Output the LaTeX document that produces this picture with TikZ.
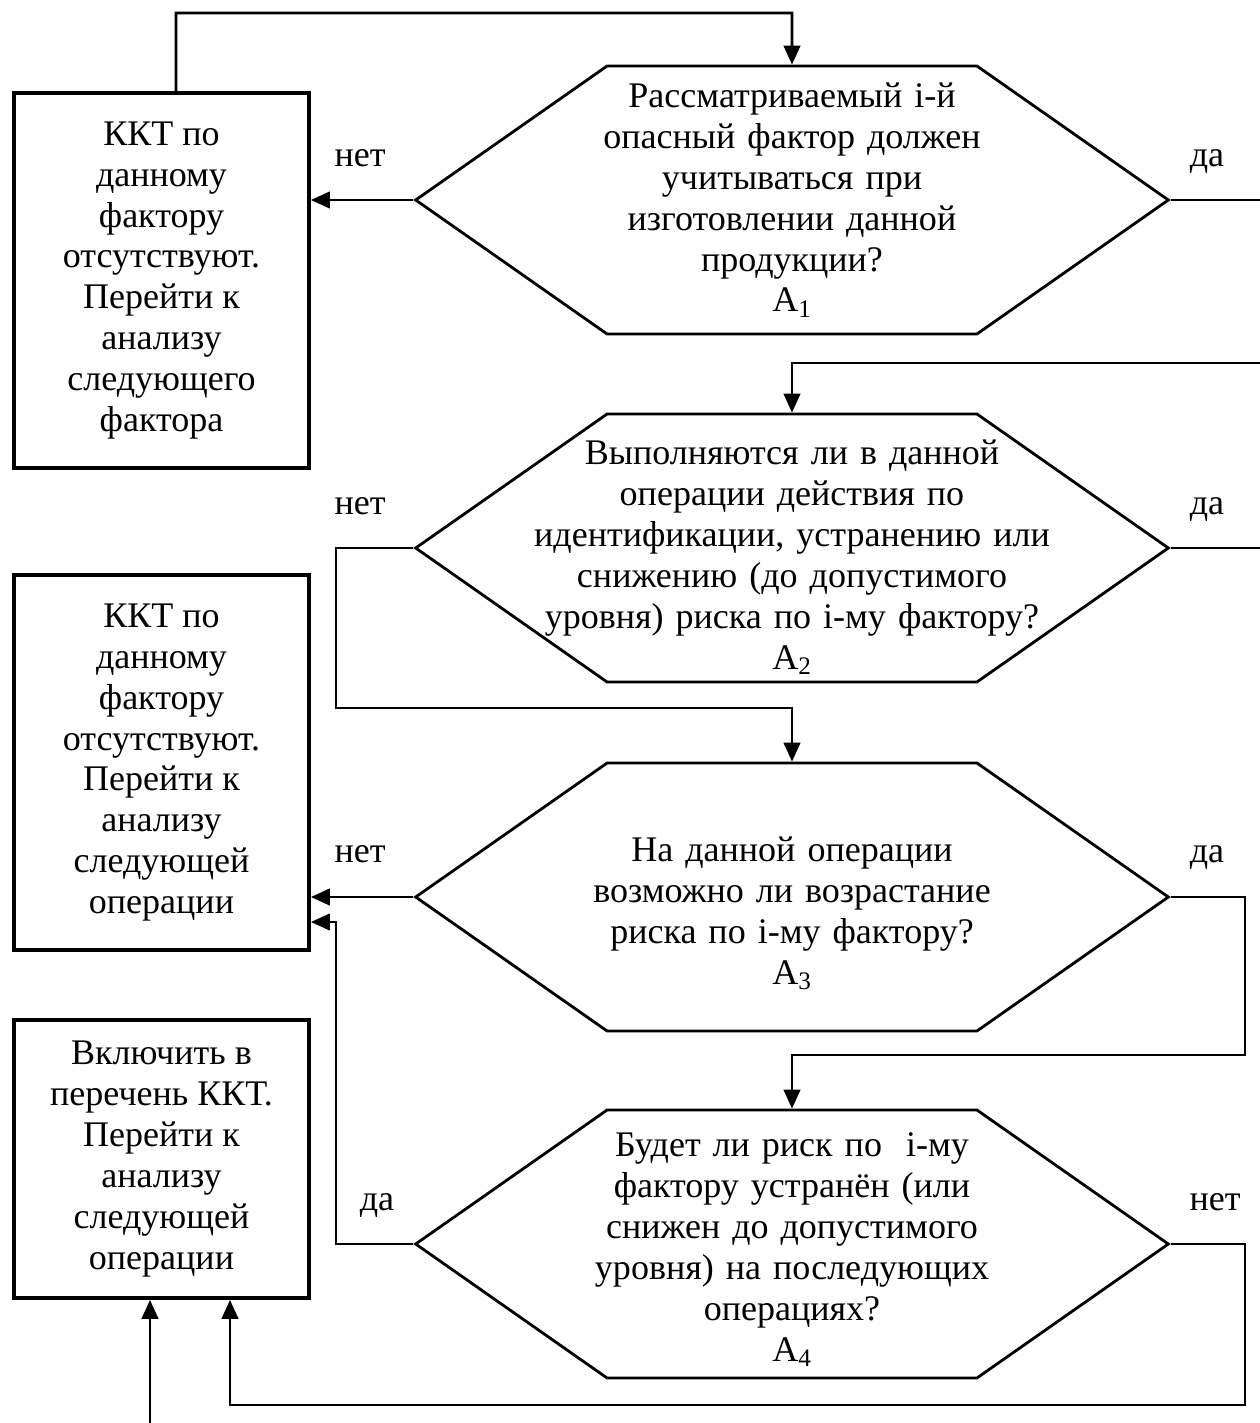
\documentclass[tikz,border=0pt]{standalone}
\usepackage{fontspec}
\setmainfont{Liberation Serif}
\usetikzlibrary{shapes.symbols,arrows.meta}

\newcommand\txtsize{\fontsize{20.5pt}{23.3pt}\selectfont}
\newcommand\toprule[1]{\rule{0pt}{#1}}
\tikzset{
	hexa/.style={signal, signal to=west and east, signal pointer angle=70, draw, line width=1.6pt, text width=7.4cm, minimum height=5.36cm, inner sep=0pt, align=center, font=\txtsize,
		execute at begin node={\leftskip=-3cm plus 1fil\rightskip=-3cm plus 1fil}},
	kkt/.style={rectangle, draw, line width=2.2pt, minimum width=5.9cm, align=center, font=\txtsize},
	arr/.style={line width=1.6pt, -{Triangle[length=0.38cm,width=0.33cm]}},
	lbl/.style={font=\txtsize, anchor=base}
}

\begin{document}
\begin{tikzpicture}[x=0.02cm, y=-0.02cm]
		\useasboundingbox (0,0) rectangle (1260,1423);
		\clip (0,0) rectangle (1260,1423);

		\draw (161.5,280.5) node [kkt, minimum height=7.5cm] (b1) {ККТ по\\данному\\фактору\\отсутствуют.\\Перейти к\\анализу\\следующего\\фактора};
		\draw (161.5,762.5) node [kkt, minimum height=7.5cm] (b2) {ККТ по\\данному\\фактору\\отсутствуют.\\Перейти к\\анализу\\следующей\\операции};
		\draw (161.5,1159) node [kkt, minimum height=5.56cm] (b3) {Включить в\\перечень ККТ.\\Перейти к\\анализу\\следующей\\операции};

		\draw (792,200) node [hexa] (h1) {Рассматриваемый i-й\\опасный фактор должен\\учитываться при\\изготовлении данной\\продукции?\\A\textsubscript{1}};
		\draw (792,548) node [hexa] (h2) {\toprule{0.86cm}Выполняются ли в данной\\операции действия по\\идентификации, устранению или\\снижению (до допустимого\\уровня) риска по i-му фактору?\\A\textsubscript{2}};
		\draw (792,897) node [hexa] (h3) {\toprule{1.14cm}На данной операции\\возможно ли возрастание\\риска по i-му фактору?\\A\textsubscript{3}};
		\draw (792,1244) node [hexa] (h4) {\toprule{0.7cm}Будет ли риск по\ \ i-му\\фактору устранён (или\\снижен до допустимого\\уровня) на последующих\\операциях?\\A\textsubscript{4}};

		\coordinate (t1) at (176,13);
		\coordinate (r1) at (1300,363);
		\coordinate (r2) at (1300,548);
		\coordinate (l2) at (336,708);
		\coordinate (r3) at (1245,1055);
		\coordinate (l4) at (336,922);
		\coordinate (r4) at (1245,1405);
		\coordinate (in3) at (150,1423);

		\draw[arr] ([xshift=0.29cm]b1.north) -- (t1) -| (h1.north);
		\draw[arr] (h1.west) -- (b1.east |- h1.west);
		\draw[arr] (h1.east) -| (r1) -| (h2.north);
		\draw[line width=1.6pt] (h2.east) -- (r2);
		\draw[arr] (h2.west) -| (l2) -| (h3.north);
		\draw[arr] (h3.west) -- (b2.east |- h3.west);
		\draw[arr] (h3.east) -| (r3) -| (h4.north);
		\draw[arr] (h4.west) -| (l4) -- (b2.east |- l4);
		\draw[arr] (h4.east) -| (r4) -| ([xshift=1.37cm]b3.south);
		\draw[arr] (in3) -- (in3 |- b3.south);

		\node[lbl] (n1) at (360,166) {нет};
		\node[lbl] (y1) at (1207,166) {да};
		\node[lbl] (n2) at (360,514) {нет};
		\node[lbl] (y2) at (1207,514) {да};
		\node[lbl] (n3) at (360,862) {нет};
		\node[lbl] (y3) at (1207,862) {да};
		\node[lbl] (y4) at (377,1210) {да};
		\node[lbl] (n4) at (1215,1210) {нет};
	\end{tikzpicture}
\end{document}
